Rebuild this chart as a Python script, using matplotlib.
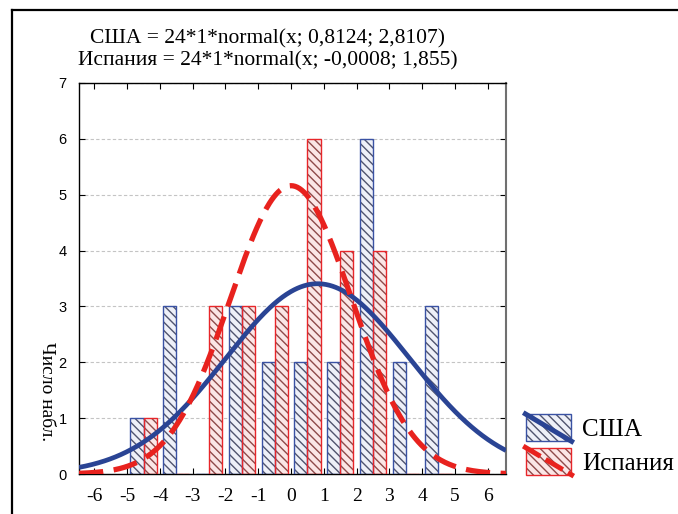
import numpy as np
import matplotlib
matplotlib.use("Agg")
import matplotlib.pyplot as plt
from matplotlib.patches import Rectangle
from matplotlib.lines import Line2D
from matplotlib.legend_handler import HandlerBase

# ---------------- data ----------------
bin_centers = [-4.5, -3.5, -2.5, -1.5, -0.5, 0.5, 1.5, 2.5, 3.5, 4.5]
usa_counts = [1, 3, 0, 3, 2, 2, 2, 6, 2, 3]
spain_counts = [1, 0, 3, 3, 3, 6, 4, 4, 0, 0]
series_names = ["США", "Испания"]
# fitted normal curves given in the chart header: n * width * normal(x; mean; sd)
fit_n = [24, 24]
fit_width = [1, 1]
fit_mean = [0.8124, -0.0008]
fit_sd = [2.8107, 1.855]
title_lines = ["США = 24*1*normal(x; 0,8124; 2,8107)",
               "Испания = 24*1*normal(x; -0,0008; 1,855)"]
x_ticks = [-6, -5, -4, -3, -2, -1, 0, 1, 2, 3, 4, 5, 6]
y_ticks = [0, 1, 2, 3, 4, 5, 6, 7]
y_label = "Число набл."

# ---------------- style ----------------
W, H = 678, 514
SERIF = ["Liberation Serif", "DejaVu Serif"]
SANS = ["Liberation Sans", "DejaVu Sans"]
plt.rcParams["hatch.linewidth"] = 1.0
HATCH = "\\\\\\\\"

blue_edge = "#3a52a4"
blue_fill = "#eef0f8"
blue_hatch = "#50546e"
red_edge = "#e8262a"
red_fill = "#fbe6e6"
red_hatch = "#8e4a4a"
blue_line = "#2a4494"
red_line = "#e8221e"

fig = plt.figure(figsize=(W / 100, H / 100), dpi=100)
ax = fig.add_axes([79 / W, 1 - 474 / H, (506 - 79) / W, (474 - 83) / H])

bw = 0.4
centers = np.array(bin_centers)
# USA bars (left of center), Spain bars (right of center)
for counts, off, fc, hc, ec in [(usa_counts, -bw, blue_fill, blue_hatch, blue_edge),
                                (spain_counts, 0.0, red_fill, red_hatch, red_edge)]:
    ax.bar(centers + off, counts, width=bw, align="edge", color=fc,
           edgecolor=hc, hatch=HATCH, linewidth=0, zorder=2)
    ax.bar(centers + off, counts, width=bw, align="edge", fill=False,
           edgecolor=ec, linewidth=1.0, zorder=3)

xs = np.linspace(-6.47, 6.56, 400)
curves = []
for n, w, m, s in zip(fit_n, fit_width, fit_mean, fit_sd):
    curves.append(n * w * np.exp(-0.5 * ((xs - m) / s) ** 2) / (s * np.sqrt(2 * np.pi)))
ax.plot(xs, curves[0], color=blue_line, lw=3.4, zorder=4, solid_capstyle="butt")
ax.plot(xs, curves[1], color=red_line, lw=3.8, zorder=5, dashes=(4.6, 2.0),
        dash_capstyle="butt")

ax.set_xlim(-6.47, 6.56)
ax.set_ylim(0, 7)
ax.set_xticks(x_ticks)
ax.set_yticks(y_ticks)
ax.tick_params(direction="in", top=True, right=True, length=4, width=0.8)
ax.tick_params(axis="x", pad=10)
ax.tick_params(axis="y", pad=9)
ax.set_xticklabels([str(t) for t in x_ticks], fontfamily=SERIF, fontsize=14)
ax.set_yticklabels([str(t) for t in y_ticks], fontfamily=SANS, fontsize=10.5)
ax.yaxis.grid(True, color="#c4c4c4", linestyle=(0, (3, 2)), linewidth=0.8, zorder=0)
ax.set_axisbelow(True)
for sp in ["left", "top", "bottom"]:
    ax.spines[sp].set_linewidth(1.0)
ax.spines["right"].set_color("#707070")
ax.spines["right"].set_linewidth(1.5)

# header
fig.text(268 / W, 1 - 43 / H, title_lines[0], ha="center", va="baseline",
         fontfamily=SERIF, fontsize=15.5)
fig.text(268 / W, 1 - 65 / H, title_lines[1], ha="center", va="baseline",
         fontfamily=SERIF, fontsize=15.5)
# y label
fig.text(46 / W, 1 - 392 / H, y_label, rotation=270, ha="center", va="center",
         fontfamily=SERIF, fontsize=14)

# figure frame (left & top visible)
fig.add_artist(Line2D([12 / W, 12 / W], [0, 1 - 10 / H], transform=fig.transFigure,
                      color="black", lw=1.6))
fig.add_artist(Line2D([12 / W, 1], [1 - 10 / H, 1 - 10 / H], transform=fig.transFigure,
                      color="black", lw=1.6))


# legend
class Entry:
    def __init__(self, fc, hc, ec, lc, lw, dashes):
        self.fc, self.hc, self.ec, self.lc, self.lw, self.dashes = fc, hc, ec, lc, lw, dashes


class EntryHandler(HandlerBase):
    def create_artists(self, legend, h, xdescent, ydescent, width, height, fontsize, trans):
        x0, y0 = -xdescent, -ydescent
        r1 = Rectangle((x0, y0), width, height, facecolor=h.fc, edgecolor=h.hc,
                       hatch=HATCH, linewidth=0, transform=trans)
        r2 = Rectangle((x0, y0), width, height, fill=False, edgecolor=h.ec,
                       linewidth=1.0, transform=trans)
        ln = Line2D([x0 - 2, x0 + width + 2], [y0 + height + 1, y0 - 1],
                    color=h.lc, lw=h.lw, transform=trans, solid_capstyle="butt",
                    dash_capstyle="butt")
        if h.dashes is not None:
            ln.set_dashes(h.dashes)
        return [r1, r2, ln]


handles = [Entry(blue_fill, blue_hatch, blue_edge, blue_line, 3.6, None),
           Entry(red_fill, red_hatch, red_edge, red_line, 3.6, (4.0, 1.2))]
fig.legend(handles, series_names, handler_map={Entry: EntryHandler()},
           loc="upper left", bbox_to_anchor=(526 / W, 1 - 414 / H),
           frameon=False, borderpad=0, borderaxespad=0,
           handlelength=1.8, handleheight=1.3, handletextpad=0.45,
           labelspacing=0.25, prop={"family": SERIF, "size": 18})

fig.savefig("out.png", dpi=100)
